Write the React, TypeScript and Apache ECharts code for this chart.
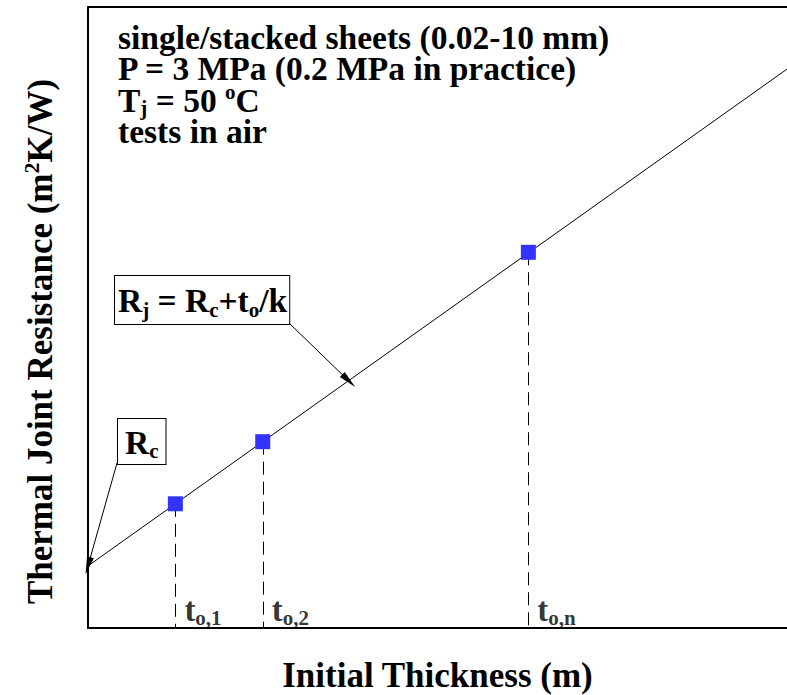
import React, { useEffect, useRef } from "react";
import * as echarts from "echarts";

// ---- data ----
const lineThickness = [0, 10];
const lineResistance = [1, 9];
const thickness = [1.25, 2.5, 6.3];
const resistance = [2.0, 3.0, 6.05];
const tickSubs = ["o,1", "o,2", "o,n"];
const rcPoint = [0, 1];
const rjPoint = [3.73, 3.98];
const infoLines = [
  "{b|single/stacked sheets (0.02-10 mm)}",
  "{b|P = 3 MPa (0.2 MPa in practice)}",
  "{b|T}{sub|j}{b| = 50 }{sup|o}{b|C}",
  "{b|tests in air}",
];
const xTitle = "Initial Thickness (m)";
const yTitle = "Thermal Joint Resistance (m{sup|2}K/W)";

const FF = "Liberation Serif";
const BIG = `bold 33.5px '${FF}'`;
const SMALL = `bold 21px '${FF}'`;

export default function App() {
  const ref = useRef<HTMLDivElement>(null);
  useEffect(() => {
    if (!ref.current) return;
    const chart = echarts.init(ref.current, null, { renderer: "svg" });
    // zrender-style rich items for graphic texts
    const gb = { font: BIG, fill: "#000", lineHeight: 31.5 };
    const gsub = { font: SMALL, fill: "#000", lineHeight: 16, padding: [15.5, 0, 0, 0] };
    const gsup = { font: SMALL, fill: "#000", lineHeight: 16, padding: [0, 0, 15.5, 0] };
    // echarts-style rich items for series labels
    const lb = { fontFamily: FF, fontWeight: "bold", fontSize: 33, color: "#000", lineHeight: 32, textBorderWidth: 0 };
    const lsub = {
      fontFamily: FF,
      fontWeight: "bold",
      fontSize: 21,
      color: "#000",
      lineHeight: 16,
      padding: [16, 0, 0, 0],
      textBorderWidth: 0,
    };
    const axisCommon = {
      type: "value",
      min: 0,
      max: 10,
      splitLine: { show: false },
      axisTick: { show: false },
      axisLabel: { show: false },
      axisLine: { show: true, lineStyle: { color: "#000", width: 2 } },
    };
    chart.setOption({
      animation: false,
      backgroundColor: "#fff",
      grid: { left: 88, right: 0, top: 7, bottom: 67, outerBoundsMode: "none", containLabel: false },
      xAxis: [
        {
          ...axisCommon,
          position: "bottom",
          name: xTitle,
          nameLocation: "middle",
          nameGap: 30,
          nameTextStyle: { fontFamily: FF, fontWeight: "bold", fontSize: 35, color: "#000" },
        },
        { ...axisCommon, position: "top" },
      ],
      yAxis: {
        ...axisCommon,
        name: yTitle,
        nameLocation: "middle",
        nameGap: 30,
        nameRotate: 90,
        nameTextStyle: {
          fontFamily: FF,
          fontWeight: "bold",
          fontSize: 35,
          color: "#000",
          lineHeight: 36,
          padding: [0, 48, 0, 0],
          rich: {
            sup: { fontFamily: FF, fontWeight: "bold", fontSize: 22, color: "#000", lineHeight: 18, padding: [0, 0, 18, 0] },
          },
        },
      },
      series: [
        {
          type: "line",
          data: lineThickness.map((x, i) => [x, lineResistance[i]]),
          showSymbol: false,
          symbol: "none",
          lineStyle: { color: "#000", width: 1 },
          z: 3,
          markLine: {
            silent: true,
            symbol: ["none", "triangle"],
            symbolSize: [7, 18],
            lineStyle: { color: "#000", width: 1, type: "solid" },
            itemStyle: { color: "#000" },
            label: { show: false },
            data: [
              [{ x: 117, y: 463 }, { coord: rcPoint }],
              [{ x: 289, y: 323 }, { coord: rjPoint }],
            ],
          },
        },
        {
          type: "line",
          data: [],
          z: 1,
          markLine: {
            silent: true,
            symbol: ["none", "none"],
            lineStyle: { color: "#000", width: 1, type: [13, 7] },
            label: { show: false },
            data: thickness.map((x, i) => [{ coord: [x, resistance[i]] }, { coord: [x, 0] }]),
          },
        },
        {
          type: "scatter",
          data: thickness.map((x, i) => [x, resistance[i]]),
          symbol: "rect",
          symbolSize: 15,
          itemStyle: { color: "#3333ff", opacity: 1 },
          z: 5,
        },
        {
          type: "scatter",
          data: thickness.map((x, i) => [x, 0, tickSubs[i]]),
          symbolSize: 0,
          z: 4,
          label: {
            show: true,
            position: [9, -34],
            color: "#000",
            textBorderWidth: 0,
            formatter: (p: any) => `{b|t}{sub|${p.data[2]}}`,
            rich: { b: lb, sub: lsub },
          },
        },
      ],
      graphic: [
        {
          type: "text",
          left: 118,
          top: 20,
          style: { text: infoLines.join("\n"), font: BIG, fill: "#000", rich: { b: gb, sub: gsub, sup: gsup } },
        },
        {
          type: "text",
          left: 114,
          top: 275,
          style: {
            text: "{b|R}{sub|j}{b| = R}{sub|c}{b|+t}{sub|o}{b|/k}",
            font: BIG,
            fill: "#000",
            rich: { b: { ...gb, lineHeight: 38 }, sub: { ...gsub, lineHeight: 18, padding: [20, 0, 0, 0] } },
            backgroundColor: "#fff",
            borderColor: "#000",
            borderWidth: 1,
            padding: [5, 2, 5, 3],
          },
        },
        {
          type: "text",
          left: 117,
          top: 418,
          style: {
            text: "{b|R}{sub|c}",
            font: BIG,
            fill: "#000",
            rich: { b: { ...gb, lineHeight: 36 }, sub: { ...gsub, lineHeight: 18, padding: [18, 0, 0, 0] } },
            backgroundColor: "#fff",
            borderColor: "#000",
            borderWidth: 1,
            padding: [5, 7, 4, 7],
          },
        },
      ],
    });
    return () => chart.dispose();
  }, []);
  return (
    <div
      ref={ref}
      style={{ position: "absolute", left: 0, top: 0, width: 787, height: 695, background: "#fff" }}
    />
  );
}
